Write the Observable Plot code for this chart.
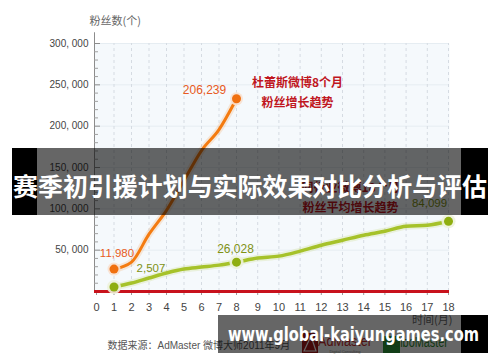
<!DOCTYPE html>
<html><head><meta charset="utf-8">
<script src="https://cdn.jsdelivr.net/npm/d3@7"></script>
<script src="https://cdn.jsdelivr.net/npm/@observablehq/plot@0.6"></script>
<style>
body{margin:0;background:#fff;}
#wrap{position:relative;width:500px;height:362px;overflow:hidden;}
#wrap svg{position:absolute;left:0;top:0;}
</style></head><body><div id="wrap"></div>
<script>
// ---- data ----
const xTicks = [0,1,2,3,4,5,6,7,8,9,10,11,12,13,14,15,16,17,18];
const yTicks = [50000,100000,150000,200000,250000,300000];
const yMinorTicks = [10000,20000,30000,40000,60000,70000,80000,90000,110000,120000,130000,140000,160000,170000,180000,190000,210000,220000,230000,240000,260000,270000,280000,290000];
const orangeMonths = [1,2,3,4,5,6,7,8];
const orangeValues = [27100,35500,69300,98200,134300,170500,195800,233100];
const greenMonths = [1,2,3,4,5,6,7,8,9,10,11,12,13,14,15,16,17,18];
const greenValues = [5400,10200,16300,22300,27100,29500,31900,35500,40400,42800,48800,56000,62000,68100,72900,78900,80100,84900];
const orangeLabelMonths = [1,8];
const orangeLabelTexts = ["11,980","206,239"];
const greenLabelMonths = [1,8,18];
const greenLabelTexts = ["2,507","26,028","84,099"];
const titleText = "赛季初引援计划与实际效果对比分析与评估";
const watermarkText = "www.global-kaiyungames.com";
const yLabel = "粉丝数(个)";
const xLabel = "时间(月)";
const captionText = "数据来源：AdMaster 微博大师2011年9月";
const orangeNote = ["杜蕾斯微博8个月","粉丝增长趋势"];
const greenNote = ["同行业微博18个月","粉丝平均增长趋势"];

// ---- tables ----
const orange = orangeMonths.map((m,i)=>({month:m,value:orangeValues[i]}));
const green = greenMonths.map((m,i)=>({month:m,value:greenValues[i]}));
const orangeLabels = orangeLabelMonths.map((m,i)=>({month:m,value:orangeValues[orangeMonths.indexOf(m)],text:orangeLabelTexts[i]}));
const greenLabels = greenLabelMonths.map((m,i)=>({month:m,value:greenValues[greenMonths.indexOf(m)],text:greenLabelTexts[i]}));

const ORANGE="#f47b10", GREEN="#a6c22a", DARKRED="#c0161e";
const cjk = "'Noto Sans CJK SC', sans-serif";
const lbl = (data,i,o)=>Plot.text([data[i]],{x:"month",y:"value",text:"text",...o});
const note = (t,dx,dy)=>Plot.text([t],{frameAnchor:"top-left",text:d=>d,dx,dy,textAnchor:"middle",fill:DARKRED,fontWeight:"bold",fontSize:12,fontFamily:cjk});

const plot = Plot.plot({
  width:500, height:362,
  marginLeft:94, marginRight:51, marginTop:43, marginBottom:71,
  style:{fontFamily:"'Liberation Sans', sans-serif", fontSize:"10px", color:"#555", background:"transparent"},
  x:{type:"linear", domain:[0,8,18], range:[96,236,448], label:null},
  y:{domain:[0,300000], label:null},
  marks:[
    Plot.frame({fill:"#f5f9fc", stroke:null}),
    Plot.ruleY(yTicks,{stroke:"#e6edf2"}),
    Plot.ruleX(xTicks.slice(1),{y1:0,y2:300000,stroke:"#d5dbe2",strokeDasharray:"3,3"}),
    Plot.ruleX([0],{dx:-2,y1:0,y2:313000,stroke:"#8c8c8c"}),
    Plot.ruleY(yTicks,{insetRight:349,stroke:"#8c8c8c"}),
    Plot.ruleY(yMinorTicks,{insetRight:351,stroke:"#a0a0a0"}),
    Plot.axisY(yTicks,{tickSize:0,tickPadding:6,fontSize:10,fill:"#444",tickFormat:d=>d3.format(",")(d).replace(",",", ")}),
    Plot.axisX(xTicks,{tickSize:4,tickPadding:8,fontSize:11,fill:"#444",stroke:"#999",tickFormat:d=>String(d)}),
    Plot.ruleY([0],{stroke:"#c8121c",strokeWidth:3}),
    // green series
    Plot.line(green,{x:"month",y:"value",stroke:GREEN,strokeWidth:7,strokeOpacity:0.15,curve:"monotone-x"}),
    Plot.line(green,{x:"month",y:"value",stroke:GREEN,strokeWidth:3.5,curve:"monotone-x"}),
    // orange series
    Plot.line(orange,{x:"month",y:"value",stroke:ORANGE,strokeWidth:7,strokeOpacity:0.15,curve:"monotone-x"}),
    Plot.line(orange,{x:"month",y:"value",stroke:ORANGE,strokeWidth:3,curve:"monotone-x"}),
    Plot.dot(greenLabels,{x:"month",y:"value",r:7,fill:"#edf2da",fillOpacity:0.9}),
    Plot.dot(greenLabels,{x:"month",y:"value",r:4.5,fill:"#8fae10"}),
    Plot.dot(orangeLabels,{x:"month",y:"value",r:6.5,fill:"#f8e0cf",fillOpacity:0.9}),
    Plot.dot(orangeLabels,{x:"month",y:"value",r:4.5,fill:"#f07010"}),
    lbl(orangeLabels,0,{dx:3,dy:-16,fill:"#e85a22",fontSize:11.5}),
    lbl(orangeLabels,1,{dx:-32,dy:-9,fill:"#e85a22",fontSize:12}),
    lbl(greenLabels,0,{dx:37,dy:-19,fill:"#7f9214",fontSize:11.5}),
    lbl(greenLabels,1,{dx:-1,dy:-13,fill:"#7f9214",fontSize:12}),
    lbl(greenLabels,2,{dx:-19,dy:-18,fill:"#7f9214",fontSize:11.5}),
    // notes
    note(orangeNote[0],203,35),
    note(orangeNote[1],203,55),
    note(greenNote[0],256,140),
    note(greenNote[1],256,160),
    // axis titles & caption
    Plot.text([yLabel],{frameAnchor:"top-left",text:d=>d,dx:-5,dy:-26,textAnchor:"start",fill:"#666",fontSize:11,fontFamily:cjk}),
    Plot.text([xLabel],{frameAnchor:"bottom-right",text:d=>d,dx:3,dy:32,textAnchor:"end",fill:"#666",fontSize:11,fontFamily:cjk}),
    Plot.text([captionText],{frameAnchor:"bottom-left",text:d=>d,dx:13,dy:57,textAnchor:"start",fill:"#555",fontSize:10,fontFamily:"'Liberation Sans','Noto Sans CJK SC',sans-serif"})
  ]
});
const wrap = document.getElementById("wrap");
wrap.appendChild(plot);

// ---- overlay (logos + banners) ----
const ov = d3.select(wrap).append("svg").attr("width",500).attr("height",362);
// logos
ov.append("rect").attr("x",302).attr("y",333).attr("width",16).attr("height",20).attr("fill","#a81818");
ov.append("path").attr("d","M304,351 L311,336 L316,351 Z").attr("fill","none").attr("stroke","#fff").attr("stroke-width",1.2);
ov.append("text").attr("x",318).attr("y",346).attr("font-family","'Liberation Sans',sans-serif").attr("font-size",14).attr("fill","#c62828").attr("textLength",54).attr("lengthAdjust","spacingAndGlyphs").text("AdMaster");
ov.append("text").attr("x",345).attr("y",353).attr("font-family","'Liberation Sans',sans-serif").attr("font-size",4).attr("fill","#888").attr("text-anchor","middle").text("Digital Consulting");
ov.append("rect").attr("x",383).attr("y",336).attr("width",17).attr("height",17).attr("fill","#2e9a3a");
ov.append("text").attr("x",384).attr("y",347).attr("font-family","'Liberation Sans',sans-serif").attr("font-size",14).attr("fill","#2e8b2e").attr("textLength",64).attr("lengthAdjust","spacingAndGlyphs").text("WeiboMaster");
// title banner
ov.append("rect").attr("x",12).attr("y",148).attr("width",25).attr("height",67).attr("fill","#000");
ov.append("rect").attr("x",461).attr("y",148).attr("width",27).attr("height",67).attr("fill","#000");
ov.append("rect").attr("x",37).attr("y",148).attr("width",424).attr("height",67).attr("fill","#000").attr("fill-opacity",0.6);
ov.append("text").attr("x",13).attr("y",184.5).attr("dominant-baseline","central").attr("font-family",cjk).attr("font-weight","bold").attr("font-size",25).attr("fill","#fff").attr("textLength",474).attr("lengthAdjust","spacingAndGlyphs").text(titleText);
// watermark banner
ov.append("rect").attr("x",461).attr("y",315).attr("width",27).attr("height",38).attr("fill","#000");
ov.append("rect").attr("x",218).attr("y",315).attr("width",243).attr("height",38).attr("fill","#000").attr("fill-opacity",0.6);
ov.append("text").attr("x",228).attr("y",341).attr("font-family","'DejaVu Sans',sans-serif").attr("font-weight","bold").attr("font-size",19).attr("fill","#fff").attr("textLength",251).attr("lengthAdjust","spacingAndGlyphs").text(watermarkText);
</script></body></html>
